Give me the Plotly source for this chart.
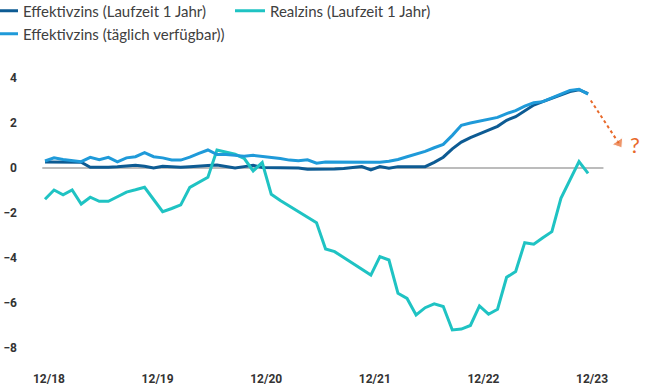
import plotly.graph_objects as go

# month index 0 = 12/2018 ... 60 = 12/2023
months = list(range(61))
tick_vals = [0, 12, 24, 36, 48, 60]
tick_text = ["12/18", "12/19", "12/20", "12/21", "12/22", "12/23"]
y_ticks = [4, 2, 0, -2, -4, -6, -8]

eff_1jahr = [0.27, 0.27, 0.27, 0.27, 0.26, 0.03, 0.02, 0.03, 0.05, 0.08,
             0.12, 0.08, 0.00, 0.08, 0.05, 0.03, 0.06, 0.10, 0.11, 0.13,
             0.07, 0.00, 0.06, 0.12, 0.02, 0.02, 0.01, 0.00, 0.00, -0.06,
             -0.06, -0.06, -0.05, -0.02, 0.03, 0.06, -0.09, 0.06, -0.01, 0.06,
             0.06, 0.06, 0.06, 0.25, 0.48, 0.85, 1.15, 1.35, 1.50, 1.68,
             1.85, 2.12, 2.28, 2.55, 2.80, 2.95, 3.10, 3.25, 3.40, 3.48,
             3.30]

eff_taeglich = [0.31, 0.45, 0.38, 0.32, 0.28, 0.47, 0.37, 0.47, 0.27, 0.45,
                0.50, 0.68, 0.50, 0.45, 0.36, 0.35, 0.48, 0.65, 0.80, 0.60,
                0.60, 0.56, 0.52, 0.56, 0.52, 0.47, 0.42, 0.35, 0.32, 0.36,
                0.21, 0.27, 0.27, 0.27, 0.28, 0.28, 0.26, 0.25, 0.30, 0.38,
                0.50, 0.62, 0.74, 0.90, 1.05, 1.45, 1.90, 2.00, 2.08, 2.15,
                2.25, 2.42, 2.55, 2.75, 2.90, 2.95, 3.10, 3.28, 3.45, 3.50,
                3.28]

realzins = [-1.39, -0.98, -1.19, -0.98, -1.60, -1.30, -1.48, -1.48, -1.28, -1.07,
            -0.97, -0.86, -1.40, -1.94, -1.80, -1.64, -0.86, -0.64, -0.41, 0.80,
            0.70, 0.61, 0.43, -0.13, 0.24, -1.17, -1.45, -1.70, -1.95, -2.20,
            -2.43, -3.60, -3.72, -3.98, -4.25, -4.50, -4.76, -3.94, -4.09, -5.57,
            -5.80, -6.53, -6.21, -6.04, -6.16, -7.20, -7.16, -7.00, -6.13, -6.50,
            -6.28, -4.86, -4.60, -3.32, -3.39, -3.10, -2.83, -1.35, -0.53, 0.28,
            -0.24]

# outlook arrow (start, end) in data units
arrow_x = [60.3, 63.4]
arrow_y = [3.0, 1.1]
question_pos = (65.2, 1.05)

C_DARK = "#0d5b93"
C_LIGHT = "#1f9ad9"
C_TEAL = "#1fc3c3"
C_ORANGE = "#e8692a"

fig = go.Figure()
fig.add_trace(go.Scatter(x=months, y=eff_1jahr, mode="lines",
                         name="Effektivzins (Laufzeit 1 Jahr)",
                         line=dict(color=C_DARK, width=3), legend="legend"))
fig.add_trace(go.Scatter(x=months, y=realzins, mode="lines",
                         name="Realzins (Laufzeit 1 Jahr)",
                         line=dict(color=C_TEAL, width=3), legend="legend2"))
fig.add_trace(go.Scatter(x=months, y=eff_taeglich, mode="lines",
                         name="Effektivzins (täglich verfügbar))",
                         line=dict(color=C_LIGHT, width=3), legend="legend3"))

fig.add_trace(go.Scatter(x=arrow_x, y=arrow_y, mode="lines+markers",
                         line=dict(color=C_ORANGE, width=2, dash="dot"),
                         marker=dict(symbol=["circle", "triangle-up"], size=[0, 11],
                                     angleref="previous", color=C_ORANGE),
                         showlegend=False, hoverinfo="skip"))

fig.add_annotation(x=question_pos[0], y=question_pos[1], text="?", showarrow=False,
                   font=dict(family="Lato", size=22, color=C_ORANGE),
                   xanchor="center", yanchor="middle")

fig.add_shape(type="line", xref="x", yref="y", x0=-0.3, x1=61.7, y0=0, y1=0,
              line=dict(color="#a6a6a6", width=1.5), layer="below")

legend_font = dict(family="Lato", size=15, color="#404040")


def legend_box(x_px, y_px):
    return dict(orientation="h", xref="paper", yref="container",
                x=(x_px - 22) / 624, y=1 - y_px / 392,
                xanchor="left", yanchor="middle",
                font=legend_font, itemwidth=30, bgcolor="rgba(0,0,0,0)")


fig.update_layout(
    width=650, height=392,
    margin=dict(l=22, r=4, t=60, b=22, autoexpand=False),
    plot_bgcolor="white", paper_bgcolor="white",
    showlegend=True,
    legend=legend_box(-17, 11),
    legend2=legend_box(230, 11),
    legend3=legend_box(-17, 34),
    xaxis=dict(range=[-2.54, 66.4], tickvals=tick_vals, ticktext=tick_text,
               showgrid=False, zeroline=False, showline=False, ticks="",
               ticklabelshift=4,
               tickfont=dict(family="Roboto", size=12, color="#333333", weight="bold")),
    yaxis=dict(range=[-8.98, 4.8], tickvals=y_ticks,
               showgrid=False, zeroline=False, showline=False, ticks="",
               ticklabelstandoff=4,
               tickfont=dict(family="Roboto", size=12, color="#333333", weight="bold")),
)

fig.write_html("out.html", config={"displayModeBar": False},
               post_script="document.body.style.margin='0';")
